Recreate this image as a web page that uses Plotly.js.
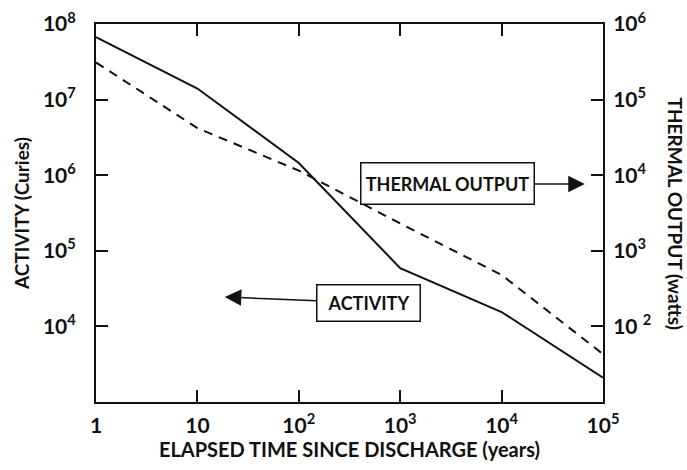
<!DOCTYPE html>
<html>
<head>
<meta charset="utf-8">
<script src="https://cdn.plot.ly/plotly-3.0.1.min.js"></script>
<style>html,body{margin:0;padding:0;background:#fff}#chart{width:687px;height:470px}</style>
</head>
<body>
<div id="chart"></div>
<script>
// Data
const years = [1, 10, 100, 1000, 10000, 100000];
const activityCuries = [6.7e7, 1.4e7, 1.45e6, 5.9e4, 1.55e4, 2.1e3];
const thermalWatts = [3.1e5, 4.2e4, 1.15e4, 2.3e3, 480, 43];

const xTickVals = [1, 10, 100, 1000, 10000, 100000];
const xTickText = ['1', '10', '10<sup>2</sup>', '10<sup>3</sup>', '10<sup>4</sup>', '10<sup>5</sup>'];
const yLeftTickVals = [1e4, 1e5, 1e6, 1e7, 1e8];
const yLeftTickText = ['10<sup>4</sup>', '10<sup>5</sup>', '10<sup>6</sup>', '10<sup>7</sup>', '10<sup>8</sup>'];
const yRightTickVals = [1e2, 1e3, 1e4, 1e5, 1e6];
const yRightTickText = ['10 <sup>2</sup>', '10<sup>3</sup>', '10<sup>4</sup>', '10<sup>5</sup>', '10<sup>6</sup>'];

const FONT = 'Lato, "Open Sans", sans-serif';
const tickFont = {family: FONT, size: 21, color: '#111', weight: 700};
const titleFont = {family: FONT, size: 19, color: '#111', weight: 700};

const traces = [
  {x: years, y: activityCuries, type: 'scatter', mode: 'lines', name: 'Activity',
   line: {color: '#111', width: 2}, yaxis: 'y'},
  {x: years, y: thermalWatts, type: 'scatter', mode: 'lines', name: 'Thermal output',
   line: {color: '#111', width: 2, dash: '9px,7px'}, yaxis: 'y2'}
];

const axisCommon = {
  type: 'log', showgrid: false, zeroline: false, showline: true,
  linecolor: '#111', linewidth: 2, ticks: 'inside', ticklen: 12,
  tickwidth: 2, tickcolor: '#111', tickfont: tickFont
};

const layout = {
  width: 687, height: 470,
  margin: {l: 96, r: 84, t: 24, b: 68},
  paper_bgcolor: '#fff', plot_bgcolor: '#fff',
  showlegend: false,
  font: {family: FONT, color: '#111'},
  xaxis: Object.assign({}, axisCommon, {
    range: [0, 5], mirror: 'ticks', tickvals: xTickVals, ticktext: xTickText,
    ticklabelstandoff: 4,
    title: {text: 'ELAPSED TIME SINCE DISCHARGE (years)', font: {family: FONT, size: 20, color: '#111', weight: 700}, standoff: 0}
  }),
  yaxis: Object.assign({}, axisCommon, {
    range: [3, 8], tickvals: yLeftTickVals, ticktext: yLeftTickText,
    ticklabelstandoff: 14,
    title: {text: 'ACTIVITY (Curies)', font: titleFont, standoff: 8}
  }),
  yaxis2: Object.assign({}, axisCommon, {
    range: [1, 6], overlaying: 'y', side: 'right',
    tickvals: yRightTickVals, ticktext: yRightTickText, ticklabelstandoff: 4
  }),
  annotations: [
    {xref: 'paper', yref: 'paper', x: 0.964, y: 0.577,
     ax: -137, ay: 0,
     text: 'THERMAL OUTPUT', showarrow: true, arrowhead: 2, arrowsize: 2.2,
     arrowwidth: 1.5, arrowcolor: '#111',
     bordercolor: '#111', borderwidth: 1.5, width: 170, height: 38,
     font: {family: FONT, size: 18, color: '#111', weight: 700}},
    {xref: 'paper', yref: 'paper', x: 0.254, y: 0.278,
     ax: 144, ay: 6,
     text: 'ACTIVITY', showarrow: true, arrowhead: 2, arrowsize: 2.2,
     arrowwidth: 1.5, arrowcolor: '#111',
     bordercolor: '#111', borderwidth: 1.5, width: 100, height: 33,
     font: {family: FONT, size: 18, color: '#111', weight: 700}},
    {xref: 'paper', yref: 'paper', x: 1, xshift: 86, y: 0.5, yshift: 0,
     showarrow: false, textangle: 90,
     text: 'THERMAL OUTPUT (watts)', font: titleFont}
  ]
};

Plotly.newPlot('chart', traces, layout, {staticPlot: true, displayModeBar: false});
</script>
</body>
</html>
